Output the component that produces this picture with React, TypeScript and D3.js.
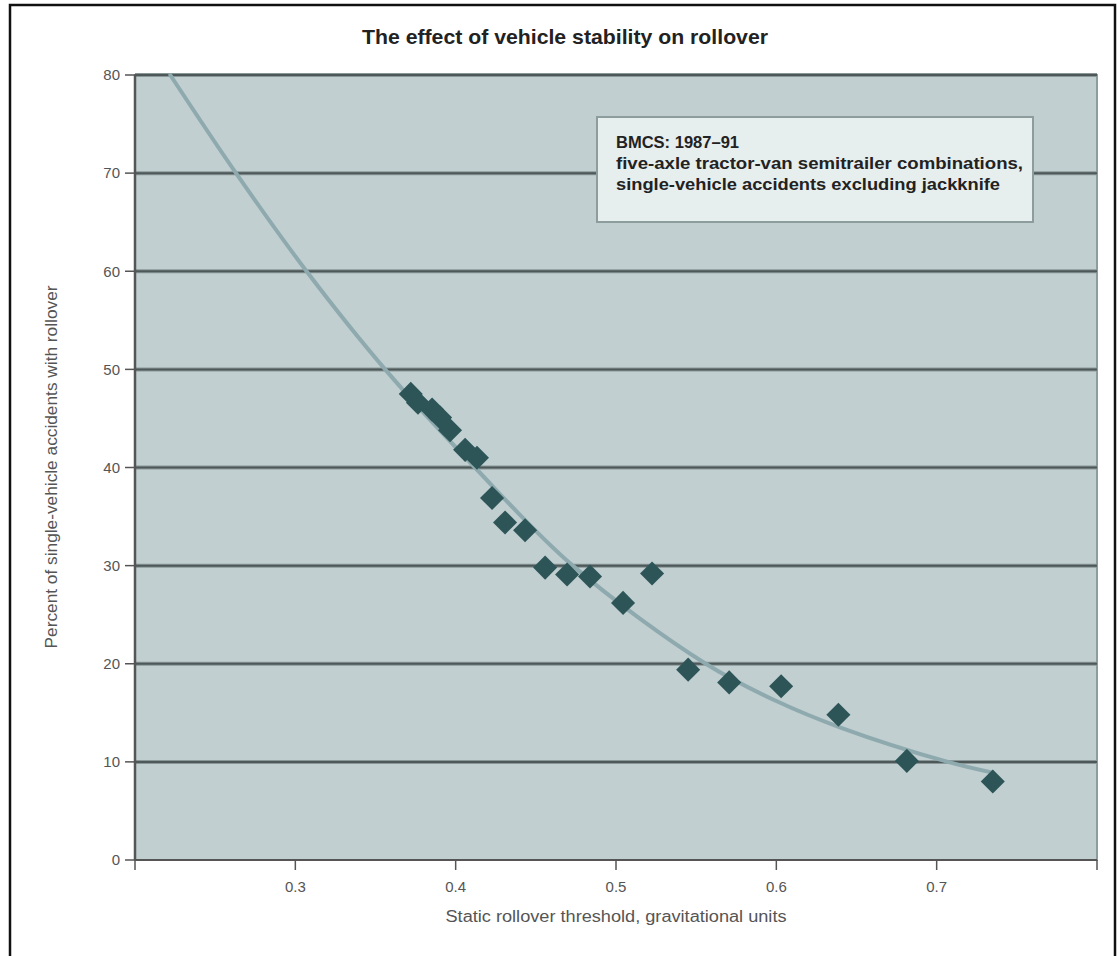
import React from "react";
import * as d3 from "d3";

// scatter: static rollover threshold (g) vs % of single-vehicle accidents with rollover
const thresholds = [0.372, 0.3765, 0.3853, 0.3903, 0.3965, 0.4059, 0.4133, 0.4227, 0.4308, 0.4433, 0.4558, 0.4695, 0.4838, 0.5044, 0.5225, 0.545, 0.5706, 0.603, 0.6387, 0.6814, 0.735];
const rolloverPct = [47.5, 46.6, 45.9, 45.1, 43.8, 41.8, 41.0, 36.9, 34.4, 33.6, 29.8, 29.1, 28.9, 26.2, 29.2, 19.4, 18.1, 17.7, 14.8, 10.1, 8.0];

// fitted curve
const fitX = [0.222, 0.263, 0.307, 0.356, 0.412, 0.473, 0.556, 0.6, 0.64, 0.707, 0.735];
const fitY = [80, 70, 60, 50, 40, 30, 20, 16.2, 13.5, 10, 8.9];

const xTicks = [0.2, 0.3, 0.4, 0.5, 0.6, 0.7, 0.8];
const xLabelled = [0.3, 0.4, 0.5, 0.6, 0.7];
const yTicks = [0, 10, 20, 30, 40, 50, 60, 70, 80];

const noteLines = [
  "BMCS: 1987–91",
  "five-axle tractor-van semitrailer combinations,",
  "single-vehicle accidents excluding jackknife",
];
const noteWidths = [123, 407, 384];

const W = 1120;
const H = 956;
const narrow = "'Liberation Sans Narrow', 'Liberation Sans', Arial, sans-serif";

const App = () => {
  const x = d3.scaleLinear().domain([0.2, 0.8]).range([135, 1097]);
  const y = d3.scaleLinear().domain([0, 80]).range([860, 75]);

  const line = d3
    .line<number>()
    .x((d, i) => x(fitX[i]))
    .y((d) => y(d))
    .curve(d3.curveCatmullRom);

  const diamond = d3.symbol().type(d3.symbolSquare).size(290)();

  return (
    <svg width={W} height={H} style={{ position: "absolute", left: 0, top: 0 }}>
      <rect x={0} y={0} width={W} height={H} fill="#fff" />
      <rect x={10} y={5} width={1105} height={1000} fill="none" stroke="#111" strokeWidth={2.5} />

      <text x={565} y={44} textAnchor="middle" fontFamily={narrow} fontWeight="bold" fontSize={21} fill="#222"
        textLength={406} lengthAdjust="spacingAndGlyphs">
        The effect of vehicle stability on rollover
      </text>

      {/* plot area */}
      <rect x={x(0.2)} y={y(80)} width={x(0.8) - x(0.2)} height={y(0) - y(80)} fill="#c1cfd0" stroke="#8d9c9d" strokeWidth={2} />

      {yTicks.slice(1).map((t) => (
        <g key={"g" + t}>
          <line x1={x(0.2)} x2={x(0.8)} y1={y(t)} y2={y(t)} stroke="#8a9798" strokeWidth={4} />
          <line x1={x(0.2)} x2={x(0.8)} y1={y(t)} y2={y(t)} stroke="#4e5859" strokeWidth={2} />
        </g>
      ))}

      {/* y axis */}
      <line x1={x(0.2)} x2={x(0.2)} y1={y(80)} y2={y(0)} stroke="#555" strokeWidth={2.5} />
      {yTicks.map((t) => (
        <g key={"y" + t}>
          <line x1={x(0.2) - 10} x2={x(0.2)} y1={y(t)} y2={y(t)} stroke="#555" strokeWidth={1.5} />
          <text x={x(0.2) - 15} y={y(t)} dy="0.35em" textAnchor="end" fontFamily={narrow} fontSize={15} fill="#555">
            {t}
          </text>
        </g>
      ))}

      {/* x axis */}
      <line x1={x(0.2)} x2={x(0.8)} y1={y(0)} y2={y(0)} stroke="#555" strokeWidth={2} />
      {xTicks.map((t) => (
        <line key={"xt" + t} x1={x(t)} x2={x(t)} y1={y(0)} y2={y(0) + 10} stroke="#555" strokeWidth={1.5} />
      ))}
      {xLabelled.map((t) => (
        <text key={"xl" + t} x={x(t)} y={y(0) + 27} dy="0.35em" textAnchor="middle" fontFamily={narrow} fontSize={15} fill="#555">
          {d3.format(".1f")(t)}
        </text>
      ))}

      <text x={616} y={922} textAnchor="middle" fontFamily={narrow} fontSize={16} fill="#555"
        textLength={341} lengthAdjust="spacingAndGlyphs">
        Static rollover threshold, gravitational units
      </text>
      <text transform={`translate(57 ${467}) rotate(-90)`} textAnchor="middle" fontFamily={narrow} fontSize={16} fill="#555"
        textLength={363} lengthAdjust="spacingAndGlyphs">
        Percent of single-vehicle accidents with rollover
      </text>

      {/* fitted curve */}
      <path d={line(fitY) || ""} fill="none" stroke="#8eaaae" strokeWidth={4} strokeLinecap="round" />

      {thresholds.map((v, i) => (
        <path
          key={"p" + i}
          d={diamond || ""}
          transform={`translate(${x(v)} ${y(rolloverPct[i])}) rotate(45)`}
          fill="#2d5558"
        />
      ))}

      {/* note box */}
      <rect x={597} y={117} width={436} height={105} fill="#e7eeee" stroke="#8d9c9d" strokeWidth={2} />
      {noteLines.map((s, i) => (
        <text key={"n" + i} x={616} y={148 + i * 21} fontFamily="'Liberation Sans', Arial, sans-serif" fontWeight="bold" fontSize={17} fill="#222"
          textLength={noteWidths[i]} lengthAdjust="spacingAndGlyphs">
          {s}
        </text>
      ))}
    </svg>
  );
};

export default App;
